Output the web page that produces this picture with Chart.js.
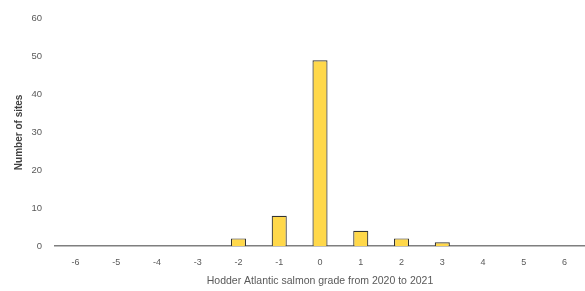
<!DOCTYPE html>
<html><head><meta charset="utf-8">
<script src="https://cdn.jsdelivr.net/npm/chart.js@4"></script>
<style>html,body{margin:0;padding:0;background:#fff}#wrap{width:585px;height:291px}</style>
</head><body><div id="wrap"><canvas id="c"></canvas></div>
<script>
const categories = ['-6','-5','-4','-3','-2','-1','0','1','2','3','4','5','6'];
const siteCounts = [0,0,0,0,2,8,49,4,2,1,0,0,0];
const yTicks = [0,10,20,30,40,50,60];

new Chart(document.getElementById('c'), {
  type: 'bar',
  data: { labels: categories, datasets: [{ data: siteCounts, backgroundColor: '#FFD84A', borderColor: '#333333', borderWidth: 1.2, barPercentage: 0.37, categoryPercentage: 1 }] },
  options: {
    responsive: true, maintainAspectRatio: false, animation: false,
    layout: { padding: { top: 12, right: 0, left: 0, bottom: 0 } },
    plugins: { legend: { display: false }, tooltip: { enabled: false } },
    scales: {
      x: {
        grid: { display: false, drawTicks: false },
        border: { color: '#7f7f7f', width: 1.5 },
        ticks: { color: '#595959', font: { family: 'Liberation Sans', size: 9 }, padding: 11 },
        title: { display: true, text: 'Hodder Atlantic salmon grade from 2020 to 2021', color: '#595959', font: { family: 'Liberation Sans', size: 10.5 }, padding: { top: 3 } },
        afterFit: s => { s.height = 45; }
      },
      y: {
        min: 0, max: 60,
        grid: { display: false, drawTicks: false },
        border: { display: false },
        afterBuildTicks: s => { s.ticks = yTicks.map(v => ({ value: v })); },
        ticks: { color: '#595959', font: { family: 'Liberation Sans', size: 9.5 }, padding: 13 },
        title: { display: true, text: 'Number of sites', color: '#404040', font: { family: 'Liberation Sans', size: 10, weight: 'bold' }, padding: { top: 13, bottom: 0 } },
        afterFit: s => { s.width = 55; }
      }
    }
  }
});
</script></body></html>
